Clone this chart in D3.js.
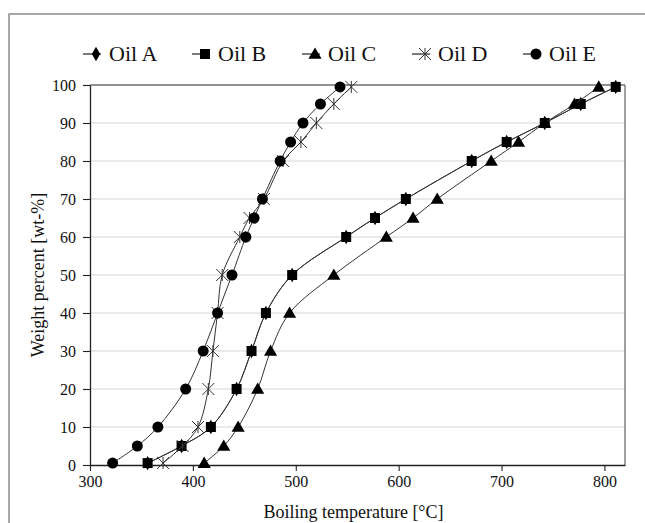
<!DOCTYPE html>
<html><head><meta charset="utf-8">
<script src="https://cdn.jsdelivr.net/npm/d3@7"></script>
<style>body{margin:0;background:#fff}svg{display:block}svg text{font-family:'Liberation Serif','Times New Roman',Times,'DejaVu Serif',serif !important;fill:#111}</style>
</head><body><svg id="c" width="645" height="523"></svg>
<script>
const weights = [0.5, 5, 10, 20, 30, 40, 50, 60, 65, 70, 80, 85, 90, 95, 99.5];
const oilA = [356, 389, 417.5, 442.5, 457, 471, 496.5, 549, 577, 607, 671, 705, 742, 777, 811];
const oilB = [356, 389, 417.5, 442.5, 457, 471, 496.5, 549, 577, 607, 671, 705, 742, 777, 811];
const oilC = [411, 430, 444, 463, 475.5, 494, 537, 588, 614, 637.5, 690, 716.5, 742, 771, 794.5];
const oilD = [371, 390, 405, 415, 419.5, 424, 428.5, 445.6, 455, 469, 487.7, 505, 520, 537, 554];
const oilE = [322, 346, 366, 393, 410, 424, 438, 451.5, 459.5, 467.6, 484.8, 495, 507, 524, 543];
const seriesNames = ["Oil A", "Oil B", "Oil C", "Oil D", "Oil E"];
const seriesTemps = [oilA, oilB, oilC, oilD, oilE];
const seriesMarkers = ["diamond", "square", "triangle", "star", "circle"];
const xTicks = [300, 400, 500, 600, 700, 800];
const yTicks = [0, 10, 20, 30, 40, 50, 60, 70, 80, 90, 100];

const FONT = "'Liberation Serif','Times New Roman',Times,'DejaVu Serif',serif";
const svg = d3.select("#c");
const L = 90, R = 625, T = 85, B = 465;
const x = d3.scaleLinear().domain([300, 820]).range([L, R]);
const y = d3.scaleLinear().domain([0, 100]).range([B, T]);

// outer frame
svg.append("rect").attr("x", 9).attr("y", 14).attr("width", 700).attr("height", 600)
  .attr("fill", "none").attr("stroke", "#8a8a8a").attr("stroke-width", 1.5);

// gridlines
svg.append("g").selectAll("line").data(yTicks.filter(d => d > 0 && d < 100)).join("line")
  .attr("x1", L).attr("x2", R).attr("y1", d => y(d)).attr("y2", d => y(d))
  .attr("stroke", "#d6d6d6").attr("stroke-width", 1.2);

// plot border top/right
svg.append("line").attr("x1", L).attr("x2", R).attr("y1", T).attr("y2", T).attr("stroke", "#6e6e6e").attr("stroke-width", 1.3);
svg.append("line").attr("x1", R).attr("x2", R).attr("y1", T).attr("y2", B).attr("stroke", "#6e6e6e").attr("stroke-width", 1.3);

// axes
const xAxis = svg.append("g").attr("transform", `translate(0,${B})`)
  .call(d3.axisBottom(x).tickValues(xTicks).tickSize(6).tickSizeOuter(0).tickPadding(5));
const yAxis = svg.append("g").attr("transform", `translate(${L},0)`)
  .call(d3.axisLeft(y).tickValues(yTicks).tickSize(7).tickSizeOuter(0).tickPadding(7));
[xAxis, yAxis].forEach(g => {
  g.attr("font-family", FONT);
  g.select(".domain").attr("stroke", "#222").attr("stroke-width", 1.3);
  g.selectAll(".tick line").attr("stroke", "#222").attr("stroke-width", 1.1);
  g.selectAll(".tick text").attr("font-family", FONT).attr("font-size", 16).attr("fill", "#111");
});

// axis titles
svg.append("text").attr("x", (L + R) / 2 - 4).attr("y", 518).attr("text-anchor", "middle")
  .attr("font-family", FONT).attr("font-size", 18).text("Boiling temperature [°C]");
svg.append("text").attr("transform", `translate(44,${(T + B) / 2}) rotate(-90)`).attr("text-anchor", "middle")
  .attr("font-family", FONT).attr("font-size", 18).text("Weight percent [wt-%]");

function markerPath(type) {
  const sym = {
    diamond: d3.symbol(d3.symbolDiamond, 60),
    square: d3.symbol(d3.symbolSquare, 100),
    triangle: d3.symbol(d3.symbolTriangle, 75),
    circle: d3.symbol(d3.symbolCircle, 95)
  };
  return sym[type] ? sym[type]() : null;
}
function drawMarker(g, type, cx, cy) {
  if (type === "star") {
    const r = 6;
    const s = g.append("g").attr("transform", `translate(${cx},${cy})`)
      .attr("stroke", "#333").attr("stroke-width", 1).attr("fill", "none");
    s.append("line").attr("x1", -r).attr("x2", r).attr("y1", -r).attr("y2", r);
    s.append("line").attr("x1", -r).attr("x2", r).attr("y1", r).attr("y2", -r);
    s.append("line").attr("x1", 0).attr("x2", 0).attr("y1", -r).attr("y2", r);
  } else {
    g.append("path").attr("d", markerPath(type)).attr("transform", `translate(${cx},${cy + (type === "triangle" ? 1 : 0)})`)
      .attr("fill", "#000");
  }
}

const line = d3.line().x(d => x(d[0])).y(d => y(d[1])).curve(d3.curveCatmullRom.alpha(0.5));

seriesNames.forEach((name, i) => {
  const pts = seriesTemps[i].map((t, j) => [t, weights[j]]);
  const g = svg.append("g");
  g.append("path").attr("d", line(pts)).attr("fill", "none").attr("stroke", "#333").attr("stroke-width", 1);
  pts.forEach(p => drawMarker(g, seriesMarkers[i], x(p[0]), y(p[1])));
});

// legend
const legTextX = [109, 218, 328, 438, 549];
seriesNames.forEach((name, i) => {
  const g = svg.append("g");
  const tx = legTextX[i], yc = 54;
  g.append("line").attr("x1", tx - 26).attr("x2", tx - 8).attr("y1", yc).attr("y2", yc).attr("stroke", "#222").attr("stroke-width", 1.2);
  drawMarker(g, seriesMarkers[i], tx - 13, yc);
  g.append("text").attr("x", tx).attr("y", yc + 7).attr("font-family", FONT).attr("font-size", 22).text(name);
});
</script></body></html>
